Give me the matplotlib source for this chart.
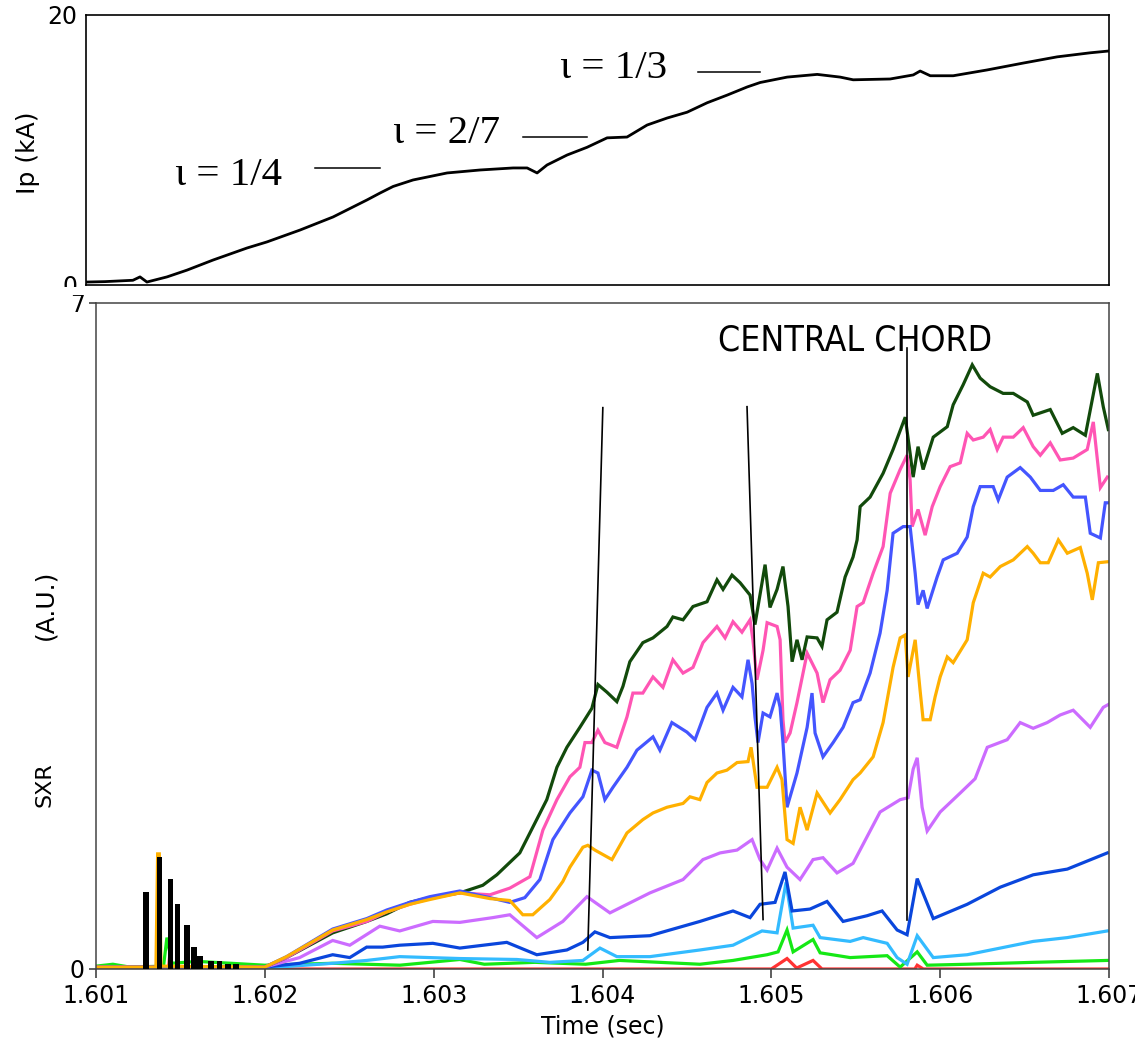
import numpy as np
import matplotlib
matplotlib.use("Agg")
import matplotlib.pyplot as plt
from matplotlib import font_manager
from matplotlib.font_manager import FontProperties
from matplotlib.patches import Rectangle

T0 = 1.601  # s, start of the time window; traces below are in ms after T0

# plasma current (ms, kA)
ip_trace = [(-0.056, 0.22), (0.05, 0.25), (0.216, 0.35), (0.258, 0.6), (0.299, 0.22),
            (0.418, 0.6), (0.536, 1.1), (0.691, 1.85), (0.892, 2.74), (1.010, 3.19),
            (1.206, 4.07), (1.402, 5.04), (1.603, 6.3), (1.680, 6.81), (1.758, 7.3),
            (1.876, 7.78), (2.078, 8.3), (2.274, 8.52), (2.469, 8.67), (2.552, 8.67),
            (2.611, 8.3), (2.670, 8.89), (2.789, 9.63), (2.907, 10.2), (3.026, 10.9),
            (3.144, 10.96), (3.263, 11.85), (3.382, 12.37), (3.500, 12.8), (3.619, 13.5),
            (3.738, 14.07), (3.856, 14.67), (3.933, 15.0), (4.093, 15.4), (4.271, 15.6),
            (4.407, 15.4), (4.484, 15.2), (4.703, 15.26), (4.840, 15.56), (4.881, 15.85),
            (4.941, 15.5), (5.077, 15.5), (5.278, 15.93), (5.492, 16.44), (5.693, 16.9),
            (5.889, 17.2), (5.996, 17.33)]

# soft x-ray chords (ms, A.U.)
sxr_darkgreen = [(0.0, 0.02), (0.999, 0.02), (1.129, 0.12), (1.402, 0.38), (1.604, 0.50),
                 (1.722, 0.58), (1.858, 0.70), (1.977, 0.75), (2.155, 0.80), (2.291, 0.88),
                 (2.374, 0.99), (2.510, 1.22), (2.570, 1.43), (2.670, 1.78), (2.730, 2.12),
                 (2.789, 2.33), (2.866, 2.54), (2.937, 2.74), (2.973, 2.99), (3.026, 2.91),
                 (3.085, 2.81), (3.121, 2.97), (3.162, 3.23), (3.239, 3.43), (3.299, 3.48),
                 (3.382, 3.60), (3.417, 3.70), (3.477, 3.67), (3.536, 3.81), (3.619, 3.86),
                 (3.678, 4.09), (3.714, 3.99), (3.767, 4.14), (3.815, 4.06), (3.874, 3.93),
                 (3.903, 3.62), (3.963, 4.25), (3.992, 3.80), (4.034, 3.99), (4.069, 4.23),
                 (4.099, 3.81), (4.123, 3.23), (4.152, 3.46), (4.182, 3.25), (4.212, 3.49),
                 (4.271, 3.48), (4.300, 3.39), (4.330, 3.67), (4.389, 3.75), (4.437, 4.12),
                 (4.484, 4.33), (4.508, 4.51), (4.526, 4.86), (4.585, 4.96), (4.662, 5.21),
                 (4.721, 5.46), (4.793, 5.80), (4.822, 5.42), (4.840, 5.17), (4.869, 5.49),
                 (4.899, 5.25), (4.959, 5.59), (5.042, 5.70), (5.077, 5.93), (5.136, 6.14),
                 (5.190, 6.35), (5.237, 6.21), (5.296, 6.12), (5.373, 6.05), (5.433, 6.05),
                 (5.516, 5.96), (5.551, 5.82), (5.652, 5.88), (5.723, 5.63), (5.788, 5.69),
                 (5.860, 5.61), (5.931, 6.26), (5.966, 5.91), (5.996, 5.67)]

sxr_pink = [(0.0, 0.02), (0.999, 0.02), (1.129, 0.12), (1.402, 0.40), (1.604, 0.50),
            (1.722, 0.60), (1.858, 0.68), (1.977, 0.74), (2.155, 0.80), (2.333, 0.78),
            (2.451, 0.85), (2.570, 0.97), (2.647, 1.46), (2.730, 1.78), (2.807, 2.02),
            (2.866, 2.12), (2.896, 2.38), (2.937, 2.38), (2.973, 2.51), (3.014, 2.38),
            (3.085, 2.33), (3.145, 2.65), (3.180, 2.90), (3.239, 2.90), (3.299, 3.07),
            (3.358, 2.96), (3.417, 3.25), (3.477, 3.11), (3.536, 3.17), (3.595, 3.43),
            (3.678, 3.60), (3.726, 3.48), (3.773, 3.65), (3.826, 3.54), (3.874, 3.67),
            (3.891, 3.46), (3.915, 3.04), (3.951, 3.35), (3.975, 3.64), (4.034, 3.60),
            (4.052, 3.46), (4.069, 2.62), (4.081, 2.38), (4.111, 2.48), (4.152, 2.80),
            (4.212, 3.32), (4.271, 3.11), (4.306, 2.80), (4.348, 3.04), (4.407, 3.14),
            (4.467, 3.35), (4.508, 3.81), (4.544, 3.85), (4.603, 4.16), (4.662, 4.44),
            (4.704, 5.00), (4.763, 5.25), (4.804, 5.40), (4.822, 5.14), (4.834, 4.65),
            (4.869, 4.83), (4.911, 4.56), (4.953, 4.86), (5.000, 5.07), (5.059, 5.28),
            (5.119, 5.32), (5.160, 5.63), (5.196, 5.56), (5.255, 5.59), (5.296, 5.67),
            (5.338, 5.46), (5.373, 5.59), (5.433, 5.59), (5.492, 5.69), (5.551, 5.49),
            (5.593, 5.40), (5.652, 5.53), (5.711, 5.35), (5.788, 5.37), (5.871, 5.46),
            (5.907, 5.75), (5.949, 5.06), (5.990, 5.17)]

sxr_blue = [(0.0, 0.02), (0.999, 0.02), (1.129, 0.13), (1.402, 0.42), (1.604, 0.53),
            (1.722, 0.62), (1.858, 0.70), (1.977, 0.76), (2.155, 0.82), (2.333, 0.75),
            (2.451, 0.70), (2.540, 0.75), (2.629, 0.94), (2.706, 1.36), (2.807, 1.64),
            (2.884, 1.81), (2.937, 2.09), (2.973, 2.06), (3.014, 1.78), (3.062, 1.91),
            (3.145, 2.12), (3.204, 2.30), (3.299, 2.44), (3.340, 2.30), (3.411, 2.59),
            (3.500, 2.49), (3.548, 2.41), (3.619, 2.75), (3.678, 2.90), (3.714, 2.72),
            (3.773, 2.96), (3.826, 2.86), (3.862, 3.25), (3.886, 3.00), (3.903, 2.65),
            (3.921, 2.38), (3.951, 2.69), (3.992, 2.65), (4.034, 2.90), (4.052, 2.75),
            (4.069, 2.38), (4.093, 1.70), (4.152, 2.06), (4.212, 2.54), (4.241, 2.90),
            (4.259, 2.48), (4.306, 2.23), (4.366, 2.38), (4.425, 2.54), (4.484, 2.80),
            (4.526, 2.83), (4.585, 3.11), (4.644, 3.53), (4.686, 3.98), (4.721, 4.58),
            (4.781, 4.65), (4.822, 4.65), (4.852, 4.16), (4.869, 3.83), (4.899, 3.98),
            (4.923, 3.79), (4.982, 4.12), (5.018, 4.30), (5.101, 4.37), (5.160, 4.54),
            (5.196, 4.86), (5.237, 5.07), (5.314, 5.07), (5.344, 4.93), (5.397, 5.17),
            (5.474, 5.27), (5.534, 5.17), (5.593, 5.03), (5.670, 5.03), (5.729, 5.09),
            (5.788, 4.96), (5.860, 4.96), (5.889, 4.58), (5.949, 4.53), (5.978, 4.90),
            (5.996, 4.90)]

sxr_orange = [(0.0, 0.02), (0.355, 0.02), (0.365, 1.21), (0.375, 1.21), (0.385, 0.03),
              (0.999, 0.02), (1.129, 0.13), (1.402, 0.41), (1.604, 0.52), (1.722, 0.60),
              (1.858, 0.68), (1.977, 0.73), (2.155, 0.80), (2.333, 0.74), (2.451, 0.72),
              (2.528, 0.57), (2.587, 0.57), (2.688, 0.73), (2.765, 0.92), (2.807, 1.07),
              (2.884, 1.28), (2.913, 1.30), (2.955, 1.25), (3.056, 1.15), (3.145, 1.43),
              (3.239, 1.57), (3.299, 1.64), (3.382, 1.70), (3.477, 1.74), (3.518, 1.81),
              (3.577, 1.78), (3.619, 1.96), (3.678, 2.06), (3.737, 2.09), (3.797, 2.17),
              (3.862, 2.18), (3.880, 2.33), (3.915, 1.91), (3.975, 1.91), (4.034, 2.12),
              (4.063, 1.99), (4.093, 1.36), (4.129, 1.32), (4.170, 1.70), (4.212, 1.46),
              (4.271, 1.85), (4.348, 1.64), (4.407, 1.78), (4.484, 1.99), (4.526, 2.06),
              (4.603, 2.23), (4.662, 2.59), (4.721, 3.17), (4.763, 3.48), (4.793, 3.51),
              (4.810, 3.07), (4.852, 3.46), (4.881, 2.93), (4.899, 2.62), (4.941, 2.62),
              (4.970, 2.86), (5.000, 3.07), (5.042, 3.28), (5.077, 3.22), (5.160, 3.46),
              (5.196, 3.85), (5.255, 4.16), (5.296, 4.12), (5.356, 4.23), (5.433, 4.30),
              (5.516, 4.44), (5.551, 4.37), (5.593, 4.27), (5.640, 4.27), (5.700, 4.51),
              (5.753, 4.37), (5.830, 4.43), (5.871, 4.16), (5.901, 3.88), (5.937, 4.27),
              (5.990, 4.28)]

sxr_violet = [(0.0, 0.02), (0.999, 0.02), (1.206, 0.12), (1.402, 0.30), (1.503, 0.25),
              (1.681, 0.45), (1.799, 0.40), (1.995, 0.50), (2.155, 0.49), (2.350, 0.54),
              (2.451, 0.57), (2.611, 0.33), (2.765, 0.50), (2.908, 0.76), (3.044, 0.59),
              (3.281, 0.80), (3.477, 0.94), (3.595, 1.15), (3.696, 1.22), (3.797, 1.25),
              (3.886, 1.36), (3.933, 1.15), (3.975, 1.04), (4.034, 1.27), (4.093, 1.07),
              (4.170, 0.94), (4.247, 1.15), (4.306, 1.17), (4.389, 1.01), (4.484, 1.11),
              (4.555, 1.35), (4.644, 1.65), (4.763, 1.78), (4.810, 1.80), (4.840, 2.10),
              (4.864, 2.22), (4.893, 1.70), (4.923, 1.45), (5.000, 1.65), (5.119, 1.85),
              (5.207, 2.00), (5.279, 2.33), (5.397, 2.41), (5.474, 2.59), (5.551, 2.53),
              (5.634, 2.59), (5.711, 2.67), (5.788, 2.72), (5.889, 2.54), (5.966, 2.75),
              (5.996, 2.78)]

sxr_darkblue = [(0.0, 0.02), (0.999, 0.02), (1.206, 0.06), (1.402, 0.15), (1.503, 0.12),
                (1.603, 0.23), (1.698, 0.23), (1.799, 0.25), (1.995, 0.27), (2.155, 0.22),
                (2.433, 0.28), (2.611, 0.15), (2.789, 0.20), (2.884, 0.28), (2.955, 0.39),
                (3.044, 0.33), (3.281, 0.35), (3.577, 0.50), (3.773, 0.61), (3.874, 0.54),
                (3.933, 0.68), (4.022, 0.70), (4.081, 1.02), (4.123, 0.61), (4.229, 0.63),
                (4.330, 0.71), (4.425, 0.50), (4.567, 0.56), (4.656, 0.61), (4.745, 0.41),
                (4.804, 0.36), (4.864, 0.95), (4.959, 0.53), (5.160, 0.68), (5.356, 0.86),
                (5.551, 0.99), (5.753, 1.05), (5.990, 1.22)]

sxr_lightblue = [(0.0, 0.01), (0.999, 0.01), (1.402, 0.06), (1.603, 0.09), (1.799, 0.13),
                 (2.155, 0.11), (2.493, 0.10), (2.688, 0.07), (2.884, 0.09), (2.985, 0.22),
                 (3.085, 0.13), (3.281, 0.13), (3.577, 0.20), (3.773, 0.25), (3.945, 0.40),
                 (4.034, 0.38), (4.087, 0.91), (4.129, 0.43), (4.247, 0.46), (4.289, 0.33),
                 (4.467, 0.29), (4.544, 0.33), (4.686, 0.27), (4.745, 0.12), (4.804, 0.05),
                 (4.864, 0.35), (4.959, 0.12), (5.160, 0.15), (5.356, 0.22), (5.551, 0.29),
                 (5.753, 0.33), (5.990, 0.40)]

sxr_green = [(0.0, 0.03), (0.1, 0.05), (0.2, 0.02), (0.40, 0.03), (0.42, 0.33), (0.45, 0.06),
             (0.6, 0.08), (0.8, 0.06), (0.999, 0.04), (1.4, 0.06), (1.8, 0.04), (2.155, 0.10),
             (2.3, 0.05), (2.6, 0.07), (2.9, 0.05), (3.1, 0.09), (3.577, 0.05), (3.773, 0.09),
             (3.975, 0.15), (4.040, 0.18), (4.093, 0.41), (4.129, 0.18), (4.247, 0.31),
             (4.289, 0.17), (4.467, 0.12), (4.686, 0.14), (4.763, 0.02), (4.864, 0.18),
             (4.923, 0.04), (5.160, 0.05), (5.551, 0.07), (5.990, 0.09)]

sxr_red = [(0.0, 0.0), (0.43, 0.0), (0.44, 0.22), (0.45, 0.0), (4.0, 0.0), (4.093, 0.11),
           (4.15, 0.01), (4.247, 0.09), (4.30, 0.0), (4.85, 0.0), (4.864, 0.04), (4.9, 0.0),
           (5.996, 0.0)]

# early black spikes (ms, A.U.)
spike_ms = [0.295, 0.376, 0.442, 0.482, 0.539, 0.582, 0.614, 0.683, 0.732, 0.781, 0.831]
spike_h = [0.81, 1.18, 0.95, 0.68, 0.46, 0.23, 0.14, 0.08, 0.08, 0.05, 0.05]

chords = [(sxr_red, '#ff3333'), (sxr_green, '#15e815'), (sxr_lightblue, '#33bbff'),
          (sxr_darkblue, '#0a46dc'), (sxr_violet, '#cc6cff'), (sxr_darkgreen, '#124a0b'),
          (sxr_pink, '#ff55b4'), (sxr_blue, '#4455ff'), (sxr_orange, '#ffb000')]

# sloped marker lines (ms, A.U.) -> (ms, A.U.)
marker_lines = [((3.002, 5.90), (2.913, 0.20)),
                ((3.856, 5.91), (3.951, 0.52)),
                ((4.804, 6.53), (4.804, 0.52))]

iota_labels = ['\u03b9 = 1/4', '\u03b9 = 2/7', '\u03b9 = 1/3']

W, H = 1135, 1042


def box(left, top, right, bottom):
    return [left / W, 1 - bottom / H, (right - left) / W, (bottom - top) / H]


def t(ms):
    return T0 + np.asarray(ms) * 1e-3


def narrow_font():
    # look for an installed condensed sans face, else plain Liberation Sans
    best = None
    for f in font_manager.fontManager.ttflist:
        tag = (f.name + ' ' + f.fname).lower()
        if f.style != 'normal' or f.weight not in (400, 'normal', 'regular'):
            continue
        if 'mono' in tag or 'serif' in f.name.lower():
            continue
        if f.stretch in ('condensed', 'semi-condensed') or 'narrow' in tag or 'condensed' in tag:
            if best is None or 'liberation' in tag or 'helvet' in tag:
                best = f
    if best is not None:
        return FontProperties(fname=best.fname)
    return FontProperties(family='Liberation Sans')


plt.rcParams['font.family'] = ['DejaVu Sans']

fig = plt.figure(figsize=(W / 100, H / 100), dpi=100)
ax_ip = fig.add_axes(box(85.5, 15, 1109, 285))
ax = fig.add_axes(box(96, 303, 1109, 969))

# ---- top panel: Ip ----
ip = np.array(ip_trace)
ax_ip.plot(t(ip[:, 0]), ip[:, 1], color='black', lw=2.0)
ax_ip.set_xlim(t(-0.065), t(6.0))
ax_ip.set_ylim(0, 20)
ax_ip.set_xticks([])
ax_ip.set_yticks([0, 20])
ax_ip.set_yticklabels(['0', '20'])
ax_ip.tick_params(axis='y', length=0, pad=6, labelsize=17)
for s in ax_ip.spines.values():
    s.set_linewidth(1.2)
ax_ip.set_ylabel('Ip (kA)', fontsize=18)
ax_ip.yaxis.set_label_coords(-0.044, 0.49)

iota_text_pos = [(0.465, 7.41), (1.758, 10.52), (2.747, 15.33)]
iota_dash = [((1.295, 1.681), 8.67), ((2.530, 2.908), 10.96), ((3.566, 3.933), 15.78)]
for lab, (xm, yk), ((d0, d1), dy) in zip(iota_labels, iota_text_pos, iota_dash):
    ax_ip.text(t(xm), yk, lab, fontsize=29.5, family='Liberation Serif', va='baseline')
    ax_ip.plot(t([d0, d1]), [dy, dy], color='black', lw=1.1)

# ---- bottom panel: SXR ----
for data, col in chords:
    d = np.array(data)
    ax.plot(t(d[:, 0]), d[:, 1], color=col, lw=2.3, solid_joinstyle='miter')
ax.bar(t(spike_ms), spike_h, width=0.034e-3, color='black', zorder=5)

for (x0, y0), (x1, y1) in marker_lines:
    ax.plot(t([x0, x1]), [y0, y1], color='black', lw=1.2, zorder=6)

cc = ax.text(t(3.685), 6.61, 'CENTRAL CHORD', fontproperties=narrow_font(), va='center')
cc.set_fontsize(28)

ax.set_xlim(T0, T0 + 0.006)
ax.set_ylim(0, 7)
xt = [1.601, 1.602, 1.603, 1.604, 1.605, 1.606, 1.607]
ax.set_xticks(xt)
ax.set_xticklabels(['%.3f' % v for v in xt])
ax.set_yticks([0, 7])
ax.set_yticklabels(['0', '7'])
ax.tick_params(axis='x', length=6.5, width=1.1, pad=4, labelsize=17, color='#333333')
ax.tick_params(axis='y', length=5, width=1.1, pad=3, labelsize=17, color='#333333')
for s in ax.spines.values():
    s.set_linewidth(1.1)
    s.set_color('#444444')
ax.set_xlabel('Time (sec)', fontsize=17)
ax.xaxis.set_label_coords(0.5, -0.068)

fig.text(45 / W, 1 - 785 / H, 'SXR', rotation=90, ha='center', va='center', fontsize=16)
fig.text(45 / W, 1 - 605 / H, '(A.U.)', rotation=90, ha='center', va='center', fontsize=18)

# fit "CENTRAL CHORD" to the width it has in the original (about 274 px)
fig.canvas.draw()
w = cc.get_window_extent().width
cc.set_fontsize(28 * 274 / w)

# the "0" of the Ip axis is cut in half in the original
fig.patches.append(Rectangle((30 / W, 1 - 295 / H), 54 / W, 7.5 / H,
                             transform=fig.transFigure, facecolor='white',
                             edgecolor='none', zorder=10))

fig.savefig('out.png', dpi=100)
